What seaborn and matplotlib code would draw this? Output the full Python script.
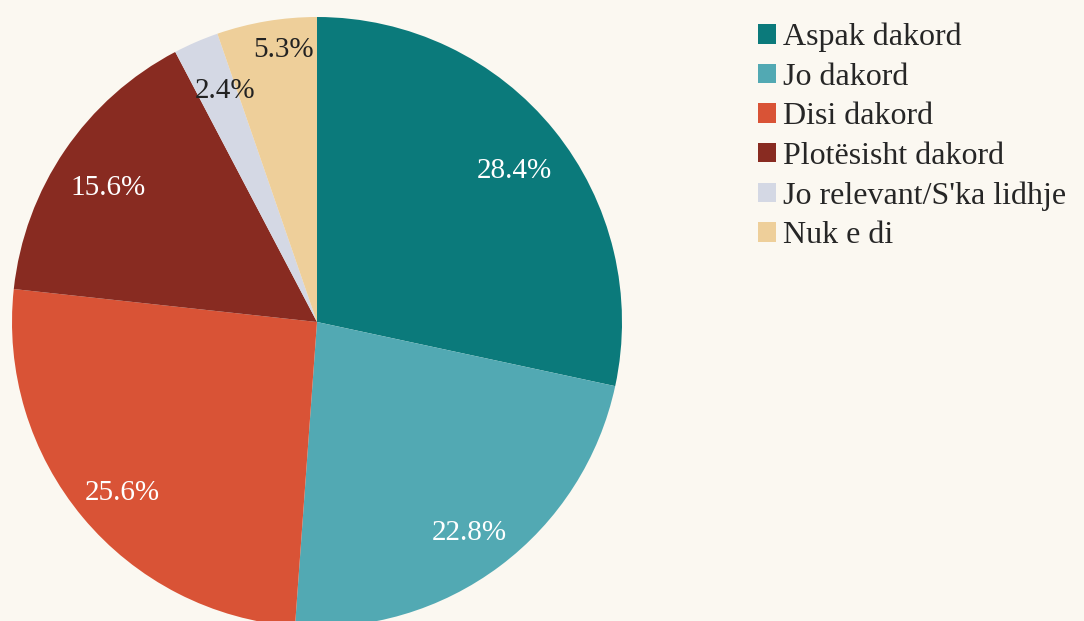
import matplotlib
matplotlib.use("Agg")
import matplotlib.pyplot as plt
import seaborn as sns

labels = ["Aspak dakord", "Jo dakord", "Disi dakord", "Plotësisht dakord",
          "Jo relevant/S'ka lidhje", "Nuk e di"]
values = [28.4, 22.8, 25.6, 15.6, 2.4, 5.3]
colors = ["#0B7A7B", "#52A9B3", "#D95336", "#882B21", "#D4D8E4", "#EECF9A"]
text_colors = ["white", "white", "white", "white", "#222222", "#222222"]

bg = "#FBF8F1"
sns.set_theme(style="white", palette=sns.color_palette(colors))
plt.rcParams['font.family'] = ['Liberation Serif', 'DejaVu Serif']

fig = plt.figure(figsize=(10.84, 6.21), dpi=100, facecolor=bg)
ax = fig.add_axes([0, 0, 1, 1])
ax.set_facecolor(bg)

wedges, texts, autotexts = ax.pie(
    values, colors=colors, startangle=90, counterclock=False,
    autopct=lambda p: f"{p:.1f}%", pctdistance=0.83, radius=1.0,
    wedgeprops={"linewidth": 0},
    textprops={"fontsize": 21},
)
for t, c in zip(autotexts, text_colors):
    t.set_color(c)
    x, y = t.get_position()
    t.set_position((x, y - 0.028))  # nudge down a little, like the original

# the two thin slices have their labels moved by hand
x, y = autotexts[5].get_position()
autotexts[5].set_position((x * 0.8, y * 1.13))
x, y = autotexts[4].get_position()
autotexts[4].set_position((x * 0.92, y + 0.023))

# place pie: centre at (317, 322) px, radius ~305 px
s = 305.0
ax.set_xlim(-317 / s, (1084 - 317) / s)
ax.set_ylim(-(621 - 322) / s, 322 / s)
ax.set_aspect("equal")
ax.axis("off")

leg = fig.legend(wedges, labels, loc="upper left", bbox_to_anchor=(745 / 1084, 1 - 10 / 621),
                 frameon=False, fontsize=23, handlelength=0.56, handleheight=0.56,
                 handletextpad=0.22, labelspacing=0.33, borderaxespad=0)

fig.savefig("out.png", dpi=100, facecolor=bg)
